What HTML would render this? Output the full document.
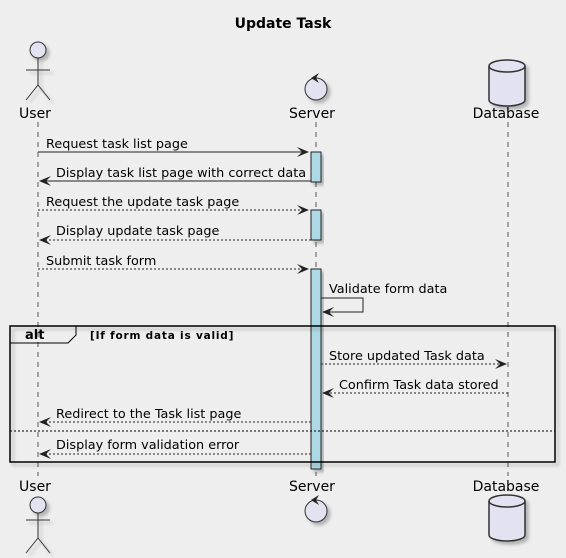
<!DOCTYPE html>
<html><head><meta charset="utf-8"><style>body{margin:0;background:#eee}svg{display:block}text{font-family:"DejaVu Sans","Liberation Sans",sans-serif;fill:#000}</style></head><body>
<svg width="566" height="558" viewBox="0 0 566 558" xmlns="http://www.w3.org/2000/svg">
<defs>
<filter id="sh" x="-20%" y="-20%" width="150%" height="150%"><feDropShadow dx="3" dy="3" stdDeviation="1.5" flood-color="#000" flood-opacity="0.25"/></filter>
</defs>
<rect width="566" height="558" fill="#eeeeee"/>
<text x="283" y="28" font-size="14" font-weight="bold" text-anchor="middle">Update Task</text>
<!-- lifelines -->
<g stroke="#555" stroke-dasharray="5,5" stroke-width="1">
<line x1="38" y1="122" x2="38" y2="476"/>
<line x1="316" y1="122" x2="316" y2="476"/>
<line x1="508" y1="122" x2="508" y2="476"/>
</g>
<!-- activations -->
<g fill="#add8e6" stroke="#222" stroke-width="1" filter="url(#sh)">
<rect x="311" y="152" width="10" height="30"/>
<rect x="311" y="210" width="10" height="30"/>
<rect x="311" y="269" width="10" height="200"/>
</g>
<!-- alt box -->
<g filter="url(#sh)"><rect x="10" y="326" width="545" height="136" fill="none" stroke="#000" stroke-width="1.5"/></g>
<path d="M10 343 H68 L76 335 V326" fill="none" stroke="#000" stroke-width="1"/>
<text x="25" y="339" font-size="13" font-weight="bold">alt</text>
<text x="90" y="339" font-size="10.5" font-weight="bold" letter-spacing="0.8">[If form data is valid]</text>
<line x1="10" y1="431" x2="555" y2="431" stroke="#000" stroke-dasharray="2,2"/>
<!-- messages -->
<g stroke="#222" stroke-width="1" fill="none">
<line x1="38" y1="152" x2="308" y2="152"/>
<line x1="311" y1="181" x2="40" y2="181"/>
<line x1="38" y1="210" x2="308" y2="210" stroke-dasharray="2,2"/>
<line x1="311" y1="240" x2="40" y2="240" stroke-dasharray="2,2"/>
<line x1="38" y1="269" x2="308" y2="269" stroke-dasharray="2,2"/>
<path d="M321 298 H363 V312 H323"/>
<line x1="321" y1="364" x2="506" y2="364" stroke-dasharray="2,2"/>
<line x1="508" y1="393" x2="323" y2="393" stroke-dasharray="2,2"/>
<line x1="311" y1="422" x2="40" y2="422" stroke-dasharray="2,2"/>
<line x1="311" y1="454" x2="40" y2="454" stroke-dasharray="2,2"/>
</g>
<g fill="#222">
<path d="M309 152 L297 147 L302 152 L297 157 z"/>
<path d="M39 181 L51 176 L46 181 L51 186 z"/>
<path d="M309 210 L297 205 L302 210 L297 215 z"/>
<path d="M39 240 L51 235 L46 240 L51 245 z"/>
<path d="M309 269 L297 264 L302 269 L297 274 z"/>
<path d="M322 312 L334 307 L329 312 L334 317 z"/>
<path d="M507 364 L495 359 L500 364 L495 369 z"/>
<path d="M322 393 L334 388 L329 393 L334 398 z"/>
<path d="M39 422 L51 417 L46 422 L51 427 z"/>
<path d="M39 454 L51 449 L46 454 L51 459 z"/>
</g>
<g font-size="12.8">
<text x="46" y="148">Request task list page</text>
<text x="56" y="177">Display task list page with correct data</text>
<text x="46" y="206">Request the update task page</text>
<text x="56" y="235">Display update task page</text>
<text x="46" y="265">Submit task form</text>
<text x="329" y="293">Validate form data</text>
<text x="329" y="360">Store updated Task data</text>
<text x="339" y="389">Confirm Task data stored</text>
<text x="56" y="418">Redirect to the Task list page</text>
<text x="56" y="449">Display form validation error</text>
</g>
<!-- participant labels -->
<g font-size="14" text-anchor="middle">
<text x="35" y="118">User</text>
<text x="312" y="118">Server</text>
<text x="506" y="118">Database</text>
<text x="35" y="491">User</text>
<text x="312" y="491">Server</text>
<text x="506" y="491">Database</text>
</g>
<!-- actors top -->
<g fill="#e2e2f0" stroke="#333" stroke-width="1" filter="url(#sh)">
<circle cx="38" cy="50" r="8"/>
<path d="M38 58 V85 M26 70 H50 M38 85 L26 100 M38 85 L50 100" fill="none"/>
<circle cx="316" cy="89" r="11"/>
<path d="M489 66 a18 6 0 0 1 36 0 v34 a18 6 0 0 1 -36 0 z" stroke-width="1.5"/>
</g>
<path d="M489 66 a18 6 0 0 0 36 0" fill="none" stroke="#333" stroke-width="1.5"/>
<path d="M311 78 l8 -5 -3 5 3 5 z" fill="#222"/>
<!-- actors bottom -->
<g fill="#e2e2f0" stroke="#333" stroke-width="1" filter="url(#sh)">
<circle cx="38" cy="505" r="8"/>
<path d="M38 513 V538 M26 520 H50 M38 538 L26 553 M38 538 L50 553" fill="none"/>
<circle cx="316" cy="511" r="11"/>
<path d="M489 501 a18 6 0 0 1 36 0 v34 a18 6 0 0 1 -36 0 z" stroke-width="1.5"/>
</g>
<path d="M489 501 a18 6 0 0 0 36 0" fill="none" stroke="#333" stroke-width="1.5"/>
<path d="M311 500 l8 -5 -3 5 3 5 z" fill="#222"/>
</svg>
</body></html>
